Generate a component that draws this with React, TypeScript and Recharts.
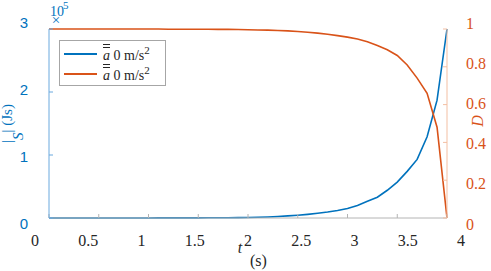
import React from 'react'
import { LineChart, Line, XAxis, YAxis, Legend } from 'recharts'

// time (s)
const TIME = [
  0, 0.1, 0.2, 0.3, 0.4, 0.5, 0.6, 0.7, 0.8, 0.9, 1.0, 1.1, 1.2, 1.3, 1.4, 1.5, 1.6, 1.7, 1.8, 1.9, 2.0,
  2.1, 2.2, 2.3, 2.4, 2.5, 2.6, 2.7, 2.8, 2.9, 3.0, 3.1, 3.2, 3.3, 3.4, 3.5, 3.6, 3.7, 3.8, 3.9, 4.0,
]
// |S| in units of 1e5 Js
const S_ABS = [
  0, 0, 0, 0, 0, 0, 0, 0.0003, 0.0005, 0.0007, 0.001, 0.0012, 0.0015, 0.0018, 0.002, 0.0025, 0.003, 0.004, 0.005, 0.006, 0.008,
  0.012, 0.017, 0.024, 0.033, 0.044, 0.058, 0.075, 0.095, 0.12, 0.15, 0.2, 0.265, 0.33, 0.44, 0.57, 0.74, 0.93, 1.29, 1.87, 3.0,
]
// damage D
const DAMAGE = [
  1, 1, 1, 1, 1, 1, 1, 1, 1, 1, 1, 1, 0.999, 0.999, 0.999, 0.999, 0.999, 0.998, 0.998, 0.997, 0.996,
  0.995, 0.994, 0.992, 0.99, 0.987, 0.983, 0.978, 0.972, 0.965, 0.957, 0.947, 0.933, 0.913, 0.89, 0.86, 0.81, 0.74, 0.66, 0.48, 0,
]
const X_TICKS = [0, 0.5, 1, 1.5, 2, 2.5, 3, 3.5, 4]
const LEFT_TICKS = [0, 1, 2, 3]
const RIGHT_TICKS = [0, 0.2, 0.4, 0.6, 0.8, 1]
const ACCEL = ['0', '0']

const BLUE = '#0072BD'
const ORANGE = '#D95319'
const FONT = 'Liberation Serif'
const SANS = 'Liberation Sans'

const data = TIME.map((t, i) => ({ t, s: S_ABS[i], d: DAMAGE[i] }))

// the labels in the source figure sit a bit wider than the tick marks
const XTick = (props: any) => {
  const { x, payload } = props
  return (
    <text x={35 + (x - 49) * 1.0704} y={246} textAnchor="middle" fontFamily={FONT} fontSize={16} fill="#262626">
      {payload.value}
    </text>
  )
}

const LeftTick = (props: any) => {
  const { y, payload } = props
  return (
    <text x={28} y={224 - (218 - y) * 1.063 + 5} textAnchor="end" fontFamily={SANS} fontSize={15} fill={BLUE}>
      {payload.value}
    </text>
  )
}

const RightTick = (props: any) => {
  const { y, payload } = props
  return (
    <text x={466} y={224 - (218 - y) * 1.063 + 5.5} textAnchor="start" fontFamily={FONT} fontSize={16} fill={ORANGE}>
      {payload.value}
    </text>
  )
}

const Empty = () => <g />

const XTitle = () => (
  <g fill="#262626">
    <text x={240} y={253} fontFamily={FONT} fontSize={16} fontStyle="italic" textAnchor="middle">t</text>
    <text x={250} y={266} fontFamily={FONT} fontSize={16}>(s)</text>
  </g>
)

const LeftTitle = () => (
  <g fill={BLUE}>
    <text transform="translate(12,143) rotate(-90)" fontFamily={FONT} fontSize={15}>
      <tspan>|</tspan>
      <tspan fontStyle="italic" dy={11}>S</tspan>
      <tspan dy={-11}>|</tspan>
      <tspan> (Js)</tspan>
    </text>
    <text x={50} y={16} fontFamily={FONT} fontSize={14}>10</text>
    <text x={63} y={9} fontFamily={FONT} fontSize={11}>5</text>
    <text x={56} y={25} fontFamily={FONT} fontSize={15} textAnchor="middle">×</text>
  </g>
)

const RightTitle = () => (
  <text transform="translate(483,121) rotate(-90)" textAnchor="middle" fontFamily={FONT} fontSize={16} fontStyle="italic" fill={ORANGE}>
    D
  </text>
)

const renderLegend = (props: any) => {
  const { payload } = props
  return (
    <div
      style={{
        width: 107,
        height: 46,
        boxSizing: 'border-box',
        border: '1px solid #a6a6a6',
        background: '#fff',
        paddingTop: 3,
        fontFamily: FONT,
        fontSize: 14,
        color: '#262626',
      }}
    >
      {payload.map((entry: any, i: number) => (
        <div key={i} style={{ display: 'flex', alignItems: 'center', height: 20 }}>
          <span style={{ display: 'inline-block', width: 33, height: 2, background: entry.color, marginLeft: 4, marginRight: 6 }} />
          <span style={{ whiteSpace: 'nowrap' }}>
            <span style={{ fontStyle: 'italic', textDecoration: 'overline', textDecorationStyle: 'double' }}>a</span>
            {' '}{ACCEL[i]} m/s<sup style={{ fontSize: 11 }}>2</sup>
          </span>
        </div>
      ))}
    </div>
  )
}

export default function App() {
  return (
    <div style={{ position: 'absolute', left: 0, top: 0, background: '#fff' }}>
      <LineChart width={491} height={271} data={data} margin={{ top: 29, right: 0, bottom: 23, left: 0 }}>
        <XAxis
          xAxisId="b"
          dataKey="t"
          type="number"
          domain={[0, 4]}
          ticks={X_TICKS}
          height={30}
          stroke="#b4b4b4"
          tickSize={-4}
          tick={XTick}
          label={XTitle}
        />
        <XAxis
          xAxisId="top"
          orientation="top"
          dataKey="t"
          type="number"
          domain={[0, 4]}
          ticks={X_TICKS}
          height={0}
          stroke="#b4b4b4"
          tickSize={-4}
          tick={Empty}
        />
        <YAxis
          yAxisId="left"
          domain={[0, 3]}
          ticks={LEFT_TICKS}
          width={49}
          stroke="#6aa9de"
          tickSize={-4}
          tick={LeftTick}
          label={LeftTitle}
        />
        <YAxis
          yAxisId="right"
          orientation="right"
          domain={[0, 1]}
          ticks={RIGHT_TICKS}
          width={44}
          stroke="#f3bfa3"
          tickSize={-4}
          tick={RightTick}
          label={RightTitle}
        />
        <Legend
          layout="vertical"
          align="center"
          verticalAlign="middle"
          wrapperStyle={{ left: 59, top: 40, width: 107 }}
          content={renderLegend}
        />
        <Line xAxisId="b" yAxisId="left" dataKey="s" name="0 m/s²" type="linear" stroke={BLUE} strokeWidth={1.6} dot={false} isAnimationActive={false} />
        <Line xAxisId="b" yAxisId="right" dataKey="d" name="0 m/s²" type="linear" stroke={ORANGE} strokeWidth={1.6} dot={false} isAnimationActive={false} />
      </LineChart>
    </div>
  )
}
